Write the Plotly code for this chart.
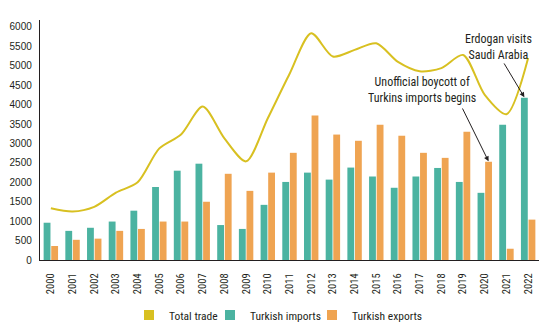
import plotly.graph_objects as go

years = [str(y) for y in range(2000, 2023)]
imports = [960, 750, 830, 990, 1270, 1880, 2300, 2480, 900, 800, 1420, 2010, 2250,
           2070, 2380, 2150, 1860, 2150, 2370, 2010, 1730, 3480, 4180]
exports = [360, 520, 550, 750, 800, 990, 990, 1500, 2220, 1780, 2250, 2760, 3720,
           3230, 3070, 3480, 3200, 2760, 2630, 3300, 2530, 290, 1040]
total = [1335, 1250, 1370, 1735, 2000, 2875, 3230, 3950, 3130, 2540, 3650, 4790, 5840,
         5240, 5410, 5580, 5100, 4860, 4940, 5280, 4250, 3755, 5200]
yticks = list(range(0, 6001, 500))

C_LINE = "#d8c021"
C_IMP = "#4bb3a1"
C_EXP = "#efa452"
TXT = "#231f20"
FONT = "Liberation Sans Narrow, Roboto Condensed, DejaVu Sans Condensed, sans-serif"
FONT_REG = "Liberation Sans, Arial, sans-serif"

fig = go.Figure()
fig.add_trace(go.Bar(x=years, y=imports, name="Turkish imports", marker_color=C_IMP,
                     marker_line_width=0, showlegend=False))
fig.add_trace(go.Bar(x=years, y=exports, name="Turkish exports", marker_color=C_EXP,
                     marker_line_width=0, showlegend=False))
fig.add_trace(go.Scatter(x=years, y=total, name="Total trade", mode="lines",
                         line=dict(color=C_LINE, width=2, shape="spline", smoothing=0.8),
                         showlegend=False))

# legend swatches (square), one legend each for tight spacing
leg_items = [("Total trade", C_LINE, "legend", 144),
             ("Turkish imports", C_IMP, "legend2", 225),
             ("Turkish exports", C_EXP, "legend3", 327)]
leg_layout = {}
for nm, c, lg, px in leg_items:
    fig.add_trace(go.Scatter(x=[None], y=[None], mode="markers", name=nm, legend=lg,
                             marker=dict(symbol="square", size=10, color=c, line_width=0)))
    leg_layout[lg] = dict(orientation="h", xref="container", yref="container",
                          x=(px - 15) / 552, xanchor="left", y=1 - 315 / 328, yanchor="middle",
                          font=dict(size=11.5, family=FONT, color=TXT), itemwidth=30,
                          bgcolor="rgba(0,0,0,0)")

fig.update_layout(
    width=552, height=328,
    margin=dict(l=40, r=13, t=20, b=68),
    paper_bgcolor="white", plot_bgcolor="white",
    barmode="group", bargap=0.3, bargroupgap=0.1,
    font=dict(family=FONT, color=TXT, size=11),
    showlegend=True,
    **leg_layout,
)
fig.update_xaxes(type="category", showline=True, linecolor=TXT, linewidth=1.4,
                 tickangle=-90, ticks="", tickfont=dict(size=10.5, color=TXT, family=FONT),
                 ticklabelstandoff=8, showgrid=False, range=[-0.5, 22.5], automargin=False)
fig.update_yaxes(range=[0, 6180], tickvals=yticks, ticktext=[str(v) for v in yticks],
                 showline=True, linecolor=TXT, linewidth=1.4, ticks="", showgrid=False,
                 zeroline=False, tickfont=dict(size=10, color=TXT, family=FONT_REG),
                 ticklabelstandoff=5, automargin=False)

ann_font = dict(family=FONT, size=12, color=TXT)
fig.add_annotation(x=17.13, y=4380, xref="x", yref="y", text="Unofficial boycott of<br>Turkins imports begins",
                   showarrow=False, font=ann_font, align="center")
fig.add_annotation(x=20.62, y=5480, xref="x", yref="y", text="Erdogan visits<br>Saudi Arabia",
                   showarrow=False, font=ann_font, align="center")
fig.add_annotation(x=20.175, y=2540, ax=18.94, ay=3940, xref="x", yref="y", axref="x", ayref="y",
                   text="", showarrow=True, arrowhead=2, arrowsize=1, arrowwidth=1, arrowcolor=TXT)
fig.add_annotation(x=21.825, y=4190, ax=20.85, ay=5100, xref="x", yref="y", axref="x", ayref="y",
                   text="", showarrow=True, arrowhead=2, arrowsize=1, arrowwidth=1, arrowcolor=TXT)

fig.write_html("out.html", config={"displayModeBar": False},
               post_script="document.body.style.margin='0px';document.body.style.overflow='hidden';")
